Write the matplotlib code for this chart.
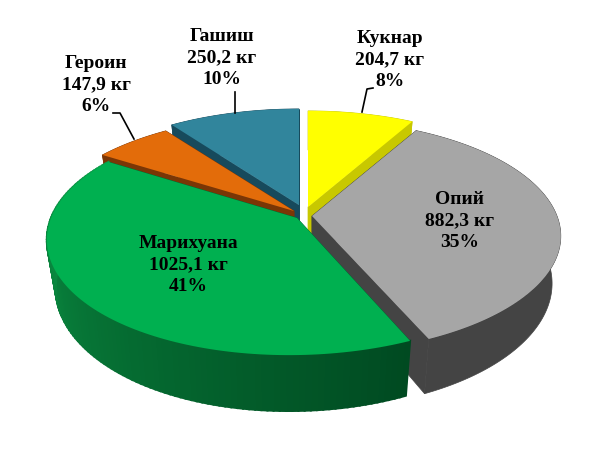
import numpy as np
import matplotlib
matplotlib.use("Agg")
import matplotlib.pyplot as plt

# data, clockwise from 12 o'clock
names = ['Кукнар', 'Опий', 'Марихуана', 'Героин', 'Гашиш']
values_kg = [204.7, 882.3, 1025.1, 147.9, 250.2]
percents = [8, 35, 41, 6, 10]

top_colors = ['#FFFF00', '#A6A6A6', '#00B050', '#E36C0A', '#31859C']
side_colors = ['#C8C800', '#444444', '#00692F', '#7A3606', '#174A5C']

# pie tip of each exploded slice, in pixels
tips = [(308, 207), (312, 216), (297, 218), (294, 211), (299, 205)]
radii = [245, 245, 246, 250, 248]
shears = [0, 3, 8, 0, 0]
label_pos = [(390, 60), (460, 221), (188, 265), (96, 85), (222, 58)]
# back to front
draw_order = [4, 3, 0, 1, 2]

H, k, D = 113, 0.176, 46


def project(i, ang, r=1.0, depth=0.0):
    # ang in degrees clockwise from 12 o'clock
    a = np.radians(ang)
    x, y = r * np.sin(a), r * np.cos(a)
    s = 1 / (1 + k * y)
    shrink = 1 - 0.035 * depth
    lean = shears[i] * min(y, 0) ** 2  # front of the pie leans left
    return tips[i][0] + radii[i] * x * s * shrink - lean, tips[i][1] - H * y * s + D * s * depth


fig = plt.figure(figsize=(6, 4.57), dpi=100)
ax = fig.add_axes([0, 0, 1, 1])
ax.set_xlim(0, 600)
ax.set_ylim(457, 0)
ax.axis('off')

ends = np.cumsum(values_kg) / np.sum(values_kg) * 360
starts = np.r_[0, ends[:-1]]

for i in draw_order:
    ang = np.linspace(starts[i], ends[i], 120)

    # cut faces
    for edge in (starts[i], ends[i]):
        quad = [project(i, edge, 0, 0), project(i, edge, 1, 0),
                project(i, edge, 1, 1), project(i, edge, 0, 1)]
        ax.fill(*zip(*quad), color=side_colors[i], lw=0.5)

    # outer rim, green one has the gradient
    if names[i] == 'Марихуана':
        for j in range(len(ang) - 1):
            quad = [project(i, ang[j], 1, 0), project(i, ang[j + 1], 1, 0),
                    project(i, ang[j + 1], 1, 1), project(i, ang[j], 1, 1)]
            t = j / (len(ang) - 2)
            c = np.array([0.0, 0.29, 0.13]) * (1 - t) + np.array([0.05, 0.62, 0.29]) * t
            ax.fill(*zip(*quad), color=c, lw=1.5)
    else:
        rim = [project(i, a, 1, 0) for a in ang] + [project(i, a, 1, 1) for a in ang[::-1]]
        ax.fill(*zip(*rim), color=side_colors[i], lw=0.5)

    # top face
    xs, ys = zip(project(i, ang[0], 0, 0), *[project(i, a, 1, 0) for a in ang])
    ax.fill(xs, ys, color=top_colors[i], lw=0)

# leader lines
ax.plot([235, 235], [92, 113], color='black', lw=1.2)
ax.plot([373, 367, 362], [88, 89, 112], color='black', lw=1.2)
ax.plot([113, 120, 134], [113, 113, 139], color='black', lw=1.2)

for name, val, pct, pos in zip(names, values_kg, percents, label_pos):
    txt = f"{name}\n{val:.1f} кг\n{pct}%".replace('.', ',')
    ax.text(pos[0], pos[1], txt, ha='center', va='center', family='Liberation Serif',
            weight='bold', fontsize=14, linespacing=1.35, color='black')

fig.savefig('out.png', dpi=100)
